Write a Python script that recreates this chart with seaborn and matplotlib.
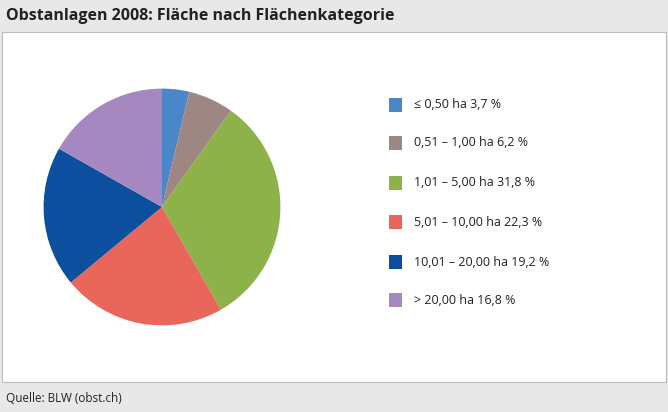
import matplotlib
matplotlib.use("Agg")
import matplotlib.pyplot as plt
import seaborn as sns
from matplotlib.patches import Rectangle

categories = ["≤ 0,50 ha", "0,51 – 1,00 ha", "1,01 – 5,00 ha", "5,01 – 10,00 ha", "10,01 – 20,00 ha", "> 20,00 ha"]
values = [3.7, 6.2, 31.8, 22.3, 19.2, 16.8]
labels = ["3,7 %", "6,2 %", "31,8 %", "22,3 %", "19,2 %", "16,8 %"]
colors = ["#4a86c8", "#9e8782", "#8db24a", "#e8665a", "#0b4f9e", "#a488bf"]

sns.set_theme(style="white")
W, H = 668, 412
fig = plt.figure(figsize=(W/100, H/100), dpi=100)
fig.patch.set_facecolor("#e8e8e8")
fig.patches.append(Rectangle((2/W, 1-382/H), 664/W, 350/H, transform=fig.transFigure,
                             facecolor="white", edgecolor="#bbbbbb", lw=0.8, zorder=-5))
fig.text(6/W, 1-16/H, "Obstanlagen 2008: Fläche nach Flächenkategorie", fontsize=11.5,
         fontweight="bold", va="center", family="Open Sans", color="#222222")
fig.text(6/W, 1-398/H, "Quelle: BLW (obst.ch)", fontsize=8.5, va="center", family="Open Sans", color="#222222")

cx, cy, r = 162, 207, 148
ax = fig.add_axes([(cx-r)/W, 1-(cy+r)/H, 2*r/W, 2*r/H])
ax.set_zorder(5)
ax.patch.set_alpha(0)
ax.pie(values, colors=colors, startangle=90, counterclock=False,
       wedgeprops=dict(linewidth=0))
ax.set_aspect("equal")
ax.axis("off")

ys = [105, 143, 183, 222, 262, 300]
for c, l, col, y in zip(categories, labels, colors, ys):
    fig.patches.append(Rectangle((389/W, 1-(y+7)/H), 13/W, 14/H, transform=fig.transFigure,
                                 facecolor=col, edgecolor="none", zorder=3))
    fig.text(414/W, 1-y/H, f"{c} {l}", fontsize=9, va="center", family="Open Sans", color="#222222")

fig.savefig("out.png", dpi=100, facecolor=fig.get_facecolor())
